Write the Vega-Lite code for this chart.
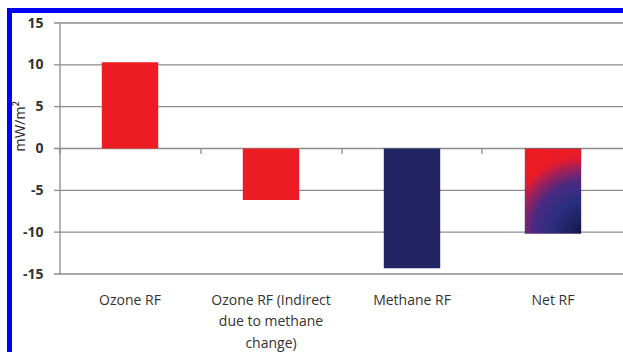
{
  "$schema": "https://vega.github.io/schema/vega-lite/v6.json",
  "width": 633.5,
  "height": 361.5,
  "autosize": "none",
  "padding": {"left": 9.5, "top": 10.5, "right": -20, "bottom": -20},
  "background": "#ffffff",
  "config": {
    "view": {"stroke": "#0000fe", "strokeWidth": 5, "fill": "#ffffff"},
    "font": "Open Sans"
  },
  "datasets": {
    "bars": [
      {"category": "Ozone RF", "value": 10.3},
      {"category": "Ozone RF (Indirect due to methane change)", "value": -6.15},
      {"category": "Methane RF", "value": -14.3},
      {"category": "Net RF", "value": -10.2}
    ],
    "grid": [
      {"value": -15}, {"value": -10}, {"value": -5}, {"value": 0},
      {"value": 5}, {"value": 10}, {"value": 15}
    ]
  },
  "encoding": {
    "y": {
      "field": "value",
      "type": "quantitative",
      "scale": {"domain": [-15, 15], "range": [263.5, 12.5], "nice": false, "zero": false},
      "axis": {
        "orient": "left",
        "offset": -50,
        "values": [-15, -10, -5, 0, 5, 10, 15],
        "labelExpr": "toString(datum.value)",
        "grid": false,
        "ticks": false,
        "tickSize": 0,
        "domain": true,
        "domainColor": "#8c8c8c",
        "domainWidth": 1.3,
        "labelPadding": 16.5,
        "labelFont": "Open Sans",
        "labelFontSize": 14,
        "labelFontWeight": "bold",
        "labelColor": "#333333",
        "title": "mW/m²",
        "titleFont": "Open Sans",
        "titleFontSize": 14.5,
        "titleFontWeight": "normal",
        "titleColor": "#222222",
        "titleAngle": 270,
        "titleAlign": "center",
        "titleBaseline": "middle",
        "titleX": -39.5,
        "titleY": 115.5
      }
    }
  },
  "layer": [
    {
      "data": {"name": "grid"},
      "mark": {"type": "rule", "color": "#8c8c8c", "strokeWidth": 1.3},
      "encoding": {
        "x": {"datum": 0, "type": "quantitative", "scale": {"domain": [0, 1], "range": [44.5, 633.5]}, "axis": null},
        "x2": {"datum": 1}
      }
    },
    {
      "data": {"name": "bars"},
      "transform": [{"filter": "datum.category != 'Net RF'"}],
      "mark": {"type": "bar"},
      "encoding": {
        "x": {
          "field": "category",
          "type": "nominal",
          "sort": null,
          "scale": {
            "domain": ["Ozone RF", "Ozone RF (Indirect due to methane change)", "Methane RF", "Net RF"],
            "range": [50, 614],
            "paddingInner": 0.6,
            "paddingOuter": 0.3
          },
          "axis": {
            "orient": "bottom",
            "offset": -98,
            "title": null,
            "domain": false,
            "ticks": false,
            "grid": false,
            "labelAngle": 0,
            "labelPadding": 19,
            "labelBaseline": "top",
            "labelFont": "Open Sans",
            "labelFontSize": 14,
            "labelColor": "#333333",
            "labelLimit": 0,
            "labelLineHeight": 21.5,
            "labelExpr": "datum.label == 'Ozone RF (Indirect due to methane change)' ? ['Ozone RF (Indirect', 'due to methane', 'change)'] : datum.label"
          }
        },
        "color": {
          "field": "category",
          "type": "nominal",
          "scale": {
            "domain": ["Ozone RF", "Ozone RF (Indirect due to methane change)", "Methane RF"],
            "range": ["#ed1c24", "#ed1c24", "#212362"]
          },
          "legend": null
        }
      }
    },
    {
      "data": {"name": "bars"},
      "transform": [{"filter": "datum.category == 'Net RF'"}],
      "mark": {
        "type": "bar",
        "fill": {
          "gradient": "radial",
          "x1": 0.88, "y1": 1, "r1": 0,
          "x2": 0.88, "y2": 1, "r2": 1,
          "stops": [
            {"offset": 0, "color": "#0e0e38"},
            {"offset": 0.15, "color": "#1c1f5c"},
            {"offset": 0.4, "color": "#2a2e80"},
            {"offset": 0.62, "color": "#4a2a82"},
            {"offset": 0.78, "color": "#a01f5a"},
            {"offset": 0.9, "color": "#e51b2b"},
            {"offset": 1, "color": "#ed1c24"}
          ]
        }
      },
      "encoding": {
        "x": {
          "field": "category",
          "type": "nominal",
          "sort": null,
          "scale": {
            "domain": ["Ozone RF", "Ozone RF (Indirect due to methane change)", "Methane RF", "Net RF"],
            "range": [50, 614],
            "paddingInner": 0.6,
            "paddingOuter": 0.3
          },
          "axis": {
            "orient": "bottom",
            "offset": -223.5,
            "title": null,
            "domain": false,
            "labels": false,
            "grid": false,
            "ticks": true,
            "bandPosition": -0.75,
            "tickSize": 5,
            "tickColor": "#8c8c8c",
            "tickWidth": 1.3
          }
        }
      }
    }
  ],
  "resolve": {"scale": {"x": "independent"}, "axis": {"x": "independent"}}
}
